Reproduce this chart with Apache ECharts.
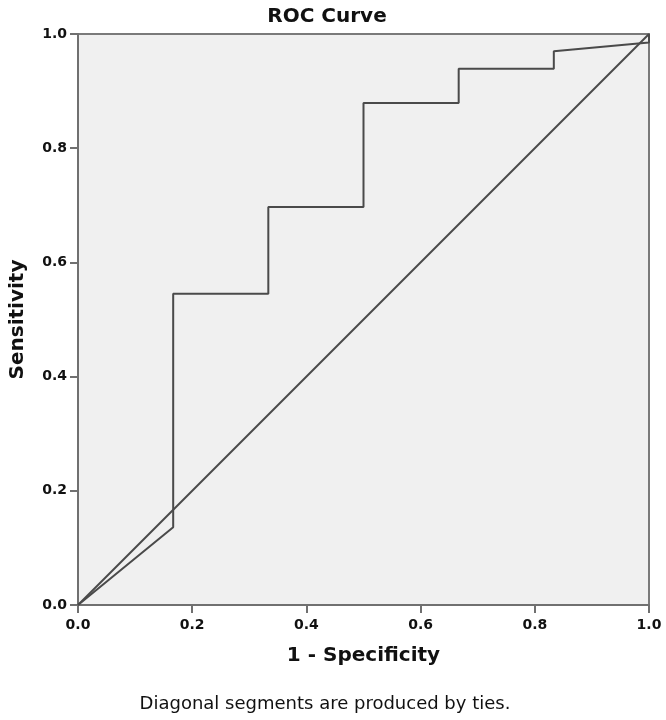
<!DOCTYPE html>
<html>
<head>
<meta charset="utf-8">
<script src="https://cdn.jsdelivr.net/npm/echarts@6/dist/echarts.min.js"></script>
<style>html,body{margin:0;padding:0;background:#fff;}#c{width:666px;height:720px;}</style>
</head>
<body>
<div id="c"></div>
<script>
var rocX = [0, 0.1667, 0.1667, 0.3333, 0.3333, 0.5, 0.5, 0.6667, 0.6667, 0.8333, 0.8333, 1.0, 1.0];
var rocY = [0, 0.136, 0.545, 0.545, 0.697, 0.697, 0.879, 0.879, 0.939, 0.939, 0.970, 0.985, 1.0];
var refX = [0, 1];
var refY = [0, 1];

var chart = echarts.init(document.getElementById('c'));
var font = 'DejaVu Sans';
function pairs(xs, ys){ return xs.map(function(x,i){ return [x, ys[i]]; }); }
var axisCommon = {
  type: 'value', min: 0, max: 1, interval: 0.2,
  axisLine: {show: true, lineStyle: {color: '#707070', width: 2}},
  axisTick: {show: true, length: 8, lineStyle: {color: '#707070', width: 2}},
  splitLine: {show: false},
  axisLabel: {color: '#111', fontFamily: font, fontWeight: 'bold', fontSize: 14,
    formatter: function(v){ return v.toFixed(1); }},
  nameLocation: 'middle',
  nameTextStyle: {color: '#111', fontFamily: font, fontWeight: 'bold', fontSize: 20}
};
chart.setOption({
  animation: false,
  title: [
    {text: 'ROC Curve', left: 322, top: 2, textAlign: 'center',
     textStyle: {fontFamily: font, fontWeight: 'bold', fontSize: 20, color: '#111'}},
    {text: 'Diagonal segments are produced by ties.', left: 320, top: 690, textAlign: 'center',
     textStyle: {fontFamily: font, fontWeight: 'normal', fontSize: 18, color: '#111'}}
  ],
  grid: {left: 77, right: 17, top: 34, bottom: 115, show: true,
    backgroundColor: '#f0f0f0', borderColor: '#7a7a7a', borderWidth: 2},
  xAxis: Object.assign({}, axisCommon, {name: '1 - Specificity', nameGap: 41,
    axisLabel: Object.assign({}, axisCommon.axisLabel, {margin: 13})}),
  yAxis: Object.assign({}, axisCommon, {name: 'Sensitivity', nameGap: 50,
    axisLabel: Object.assign({}, axisCommon.axisLabel, {margin: 11})}),
  series: [
    {type: 'line', data: pairs(refX, refY), symbol: 'none',
     lineStyle: {color: '#4a4a4a', width: 2}},
    {type: 'line', data: pairs(rocX, rocY), symbol: 'none',
     lineStyle: {color: '#4a4a4a', width: 2}}
  ]
});
</script>
</body>
</html>
